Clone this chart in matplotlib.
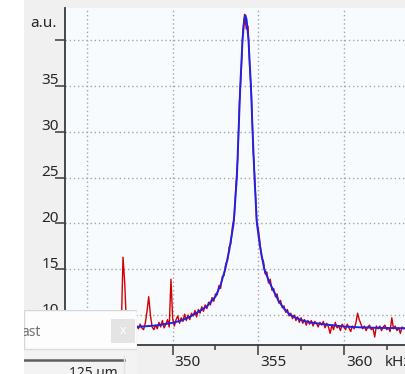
import matplotlib
matplotlib.use("Agg")
import matplotlib.pyplot as plt
import matplotlib.transforms as mtransforms
from matplotlib.patches import Rectangle
import numpy as np

W, H = 406, 374

# measured spectrum, 0.1 kHz steps from 346.0 to 363.6 kHz
freq_khz = np.linspace(346.0, 363.6, 177)
signal = [
    8.3, 8.9, 8.5, 8.8, 8.4, 8.7, 9.0, 8.5, 8.8, 8.6,
    8.7, 16.3, 13.5, 8.9, 8.4, 8.8, 8.6, 9.1, 8.5, 8.8,
    8.5, 9.0, 8.6, 8.4, 9.1, 10.4, 12.0, 10.0, 8.7, 8.4,
    8.9, 8.5, 9.2, 8.7, 9.4, 8.6, 9.0, 9.5, 8.7, 13.9,
    9.6, 8.8, 9.5, 9.9, 9.1, 9.7, 9.3, 10.1, 9.4, 10.0,
    9.5, 10.2, 9.9, 10.5, 9.8, 10.6, 10.2, 10.9, 10.4, 11.1,
    10.7, 11.4, 11.1, 11.9, 11.5, 12.3, 12.2, 13.2, 12.9, 14.2,
    14.3, 15.6, 15.9, 17.4, 17.8, 19.8, 20.6, 24.3, 27.0, 33.2,
    36.3, 41.0, 42.8, 41.2, 41.5, 37.0, 34.1, 28.0, 24.9, 20.3,
    19.4, 17.9, 16.2, 15.9, 14.5, 14.7, 13.5, 13.9, 12.7, 12.9,
    12.0, 12.3, 11.3, 11.6, 10.8, 11.0, 10.3, 10.6, 9.9, 10.2,
    9.6, 10.0, 9.4, 9.8, 9.2, 9.7, 9.1, 9.5, 8.9, 9.4,
    9.0, 9.4, 8.8, 9.3, 9.1, 8.7, 9.2, 8.9, 9.3, 8.6,
    9.1, 8.7, 8.0, 8.9, 8.4, 9.2, 8.6, 8.8, 8.3, 9.0,
    8.7, 8.4, 9.0, 8.6, 8.2, 8.8, 8.5, 9.1, 10.2, 9.5,
    9.0, 8.5, 8.8, 8.3, 8.7, 8.9, 8.4, 8.6, 7.6, 8.8,
    8.5, 8.8, 8.3, 8.7, 8.9, 8.4, 8.6, 8.2, 9.7, 8.5,
    8.8, 8.3, 8.6, 8.0, 8.7, 8.5, 8.6,
]

# resonance fit
fit_khz = [
    346.0, 347.0, 348.0, 349.0, 350.0, 350.5, 351.0, 351.5, 352.0, 352.5,
    352.8, 353.07, 353.3, 353.56, 353.75, 353.85, 353.95, 354.08, 354.18, 354.25,
    354.32, 354.43, 354.57, 354.67, 354.78, 354.92, 355.1, 355.35, 355.6, 355.85,
    356.2, 356.5, 356.87, 357.5, 358.0, 359.0, 360.0, 361.0, 362.0, 363.0, 363.7,
]
fit_signal = [
    8.60, 8.65, 8.72, 8.85, 9.15, 9.40, 9.80, 10.35, 10.95, 12.0,
    13.3, 15.0, 17.0, 20.0, 25.0, 30.0, 35.0, 40.0, 42.2, 42.7,
    42.2, 40.0, 35.0, 30.0, 25.0, 20.0, 17.5, 15.0, 13.8, 12.8,
    11.5, 10.7, 10.0, 9.45, 9.2, 8.95, 8.75, 8.65, 8.6, 8.57, 8.55,
]

y_ticks = [10, 15, 20, 25, 30, 35, 40]
y_tick_labels = ["10", "15", "20", "25", "30", "35", ""]
x_ticks = [345, 350, 355, 360]
x_tick_labels = ["", "350", "355", "360"]  # 345 sits under the tool window
x_minor_ticks = [347.5, 352.5, 357.5, 362.5]

plt.rcParams["font.family"] = ["Noto Sans", "DejaVu Sans"]
TEXT = "#262626"
AXIS = "#3a3a3a"
FS = 11

fig = plt.figure(figsize=(W / 100, H / 100), dpi=100)
fig.patch.set_facecolor("#f0f0f0")
fig.add_artist(Rectangle((0, 0), 24 / W, 1, transform=fig.transFigure,
                         facecolor="white", edgecolor="none", zorder=0))

ax = fig.add_axes([65.5 / W, 29 / H, (W - 65.5) / W, 337 / H])
ax.set_facecolor("#f8fbfe")
ax.set_xlim(343.74, 363.63)
ax.set_ylim(6.73, 43.49)

ax.plot(freq_khz, signal, color="#d10000", lw=1.0, zorder=3)
ax.plot(fit_khz, fit_signal, color="#2222e6", lw=1.4, zorder=4)

ax.set_axisbelow(True)
ax.grid(True, which="major", color="#a5a5a5", linestyle=(0, (1, 2)), linewidth=1)

for side in ("top", "right"):
    ax.spines[side].set_visible(False)
for side in ("left", "bottom"):
    ax.spines[side].set_color(AXIS)
    ax.spines[side].set_linewidth(1.3)

ax.set_yticks(y_ticks, y_tick_labels)
ax.set_xticks(x_ticks, x_tick_labels)
ax.set_xticks(x_minor_ticks, minor=True)
ax.tick_params(axis="y", length=7.2, width=1.1, color=AXIS, pad=-2.5,
               labelsize=FS, labelcolor=TEXT)
ax.tick_params(axis="x", which="major", length=7.2, width=1.1, color=AXIS,
               pad=0, labelsize=FS, labelcolor=TEXT)
ax.tick_params(axis="x", which="minor", length=3.6, width=1.1, color=AXIS)

up = mtransforms.ScaledTranslation(0, 1.5 / 100, fig.dpi_scale_trans)
for lbl in ax.get_yticklabels():
    lbl.set_verticalalignment("baseline")
    lbl.set_transform(lbl.get_transform() + up)
right = mtransforms.ScaledTranslation(2 / 100, 0, fig.dpi_scale_trans)
for lbl in ax.get_xticklabels():
    lbl.set_horizontalalignment("left")
    lbl.set_transform(lbl.get_transform() + right)

fig.text(57 / W, 1 - 27 / H, "a.u.", ha="right", va="baseline",
         fontsize=FS, color=TEXT)
fig.text(385 / W, 1 - 366 / H, "kHz", ha="left", va="baseline",
         fontsize=FS, color=TEXT)

# floating tool window covering the lower left corner
ov = fig.add_axes([24 / W, 0, 113 / W, 64 / H])
ov.set_xlim(24, 137)
ov.set_ylim(374, 310)
ov.axis("off")
ov.add_patch(Rectangle((24, 310), 113, 64, facecolor="#fdfdfd",
                       edgecolor="#d6d6d6", lw=1))
ov.add_patch(Rectangle((24, 349), 113, 25, facecolor="#f3f3f3",
                       edgecolor="none"))
ov.plot([24, 137], [349, 349], color="#dcdcdc", lw=1)
ov.plot([24, 124], [360, 360], color="#5e5e5e", lw=1.8)
ov.plot([124, 124], [356, 374], color="#e2e2e2", lw=1)
ov.add_patch(Rectangle((111, 319), 24, 24, facecolor="#e4e4e4",
                       edgecolor="none"))
ov.text(123, 331, "x", ha="center", va="center", color="white", fontsize=9)
ov.text(21, 336, "ast", ha="left", va="baseline", color="#707070",
        fontsize=10, clip_on=True)
ov.text(118, 377, "125 µm", ha="right", va="baseline", color=TEXT,
        fontsize=10, clip_on=True)

fig.savefig("out.png", dpi=100, facecolor=fig.get_facecolor())
